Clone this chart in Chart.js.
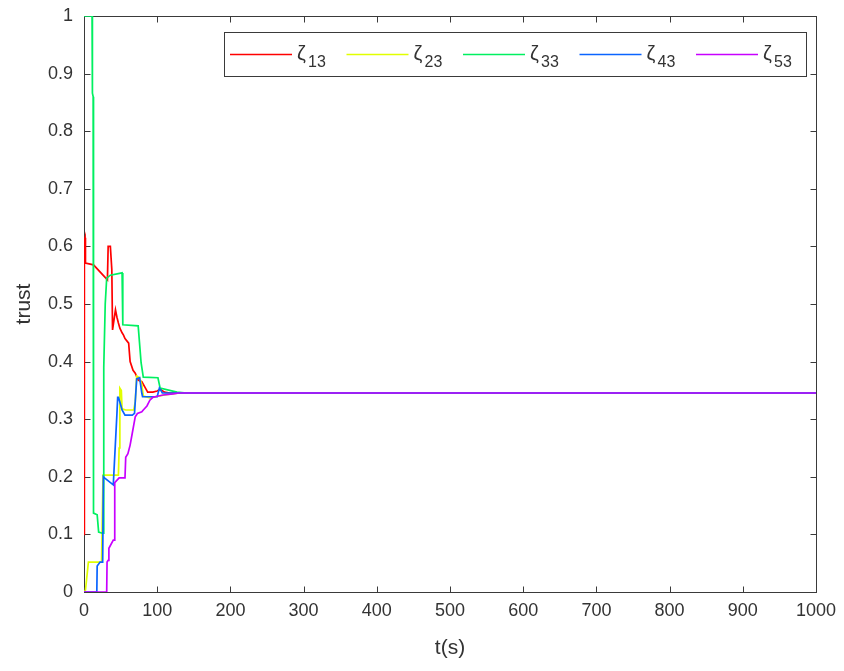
<!DOCTYPE html>
<html>
<head>
<meta charset="utf-8">
<script src="https://cdn.jsdelivr.net/npm/chart.js@4/dist/chart.umd.min.js"></script>
<style>
  html, body { margin: 0; padding: 0; background: #fff; }
  canvas { display: block; }
</style>
</head>
<body>
<canvas id="c" width="844" height="671"></canvas>
<script>
// Trust values of the five agents towards agent 3 over time (s)
const t13 = [0, 0.5, 1.5, 2, 13, 32, 33, 36, 38, 39, 43, 45, 47, 49, 52, 54, 56, 61, 63, 67, 70, 74, 79, 83, 87, 94, 100, 104, 110, 117, 1000];
const z13 = [0.10, 0.61, 0.615, 0.571, 0.568, 0.542, 0.60, 0.60, 0.56, 0.455, 0.49, 0.477, 0.467, 0.458, 0.45, 0.446, 0.44, 0.432, 0.40, 0.385, 0.38, 0.368, 0.365, 0.356, 0.347, 0.347, 0.349, 0.352, 0.347, 0.3455, 0.3455];

const t23 = [0, 2, 6, 24, 26, 47, 48, 49, 51, 52, 57, 68, 70, 72, 76, 79, 81, 90, 110, 130, 1000];
const z23 = [0, 0.003, 0.052, 0.052, 0.203, 0.203, 0.25, 0.354, 0.35, 0.318, 0.316, 0.316, 0.33, 0.375, 0.372, 0.36, 0.34, 0.337, 0.342, 0.3455, 0.3455];

const t33 = [0, 11, 11.5, 12.5, 13, 18, 20, 25, 26, 27, 29, 31, 36, 52, 53, 74, 78, 81, 101, 104, 127, 140, 1000];
const z33 = [1.0, 1.0, 0.866, 0.86, 0.137, 0.134, 0.104, 0.102, 0.102, 0.39, 0.50, 0.545, 0.55, 0.554, 0.464, 0.462, 0.398, 0.373, 0.372, 0.354, 0.347, 0.3455, 0.3455];

const t43 = [0, 17.5, 18, 22, 25.5, 26.5, 28, 40, 45, 46, 47, 49, 52, 56, 66, 69, 72, 76, 79, 80, 100, 103, 105, 107, 1000];
const z43 = [0, 0, 0.045, 0.052, 0.052, 0.2, 0.198, 0.186, 0.31, 0.338, 0.338, 0.33, 0.316, 0.307, 0.307, 0.31, 0.37, 0.372, 0.345, 0.339, 0.339, 0.354, 0.35, 0.3455, 0.3455];

const t53 = [0, 31, 31.5, 33, 34, 40, 41, 42, 48, 56, 57, 60, 63, 66, 68, 70, 73, 79, 81, 86, 90, 94, 97, 108, 122, 130, 1000];
const z53 = [0, 0, 0.052, 0.055, 0.076, 0.09, 0.09, 0.19, 0.198, 0.198, 0.234, 0.24, 0.255, 0.276, 0.29, 0.304, 0.31, 0.313, 0.316, 0.323, 0.333, 0.338, 0.339, 0.342, 0.344, 0.3455, 0.3455];

const seriesSubs = ['13', '23', '33', '43', '53'];
const seriesColors = ['#ff0000', '#e1ff00', '#00f060', '#0a64ff', '#c800ff'];
const seriesTimes = [t13, t23, t33, t43, t53];
const seriesValues = [z13, z23, z33, z43, z53];

const xTickValues = [0, 100, 200, 300, 400, 500, 600, 700, 800, 900, 1000];
const xTickLabels = ['0', '100', '200', '300', '400', '500', '600', '700', '800', '900', '1000'];
const yTickValues = [0, 0.1, 0.2, 0.3, 0.4, 0.5, 0.6, 0.7, 0.8, 0.9, 1];
const yTickLabels = ['0', '0.1', '0.2', '0.3', '0.4', '0.5', '0.6', '0.7', '0.8', '0.9', '1'];

const FONT = '"Liberation Sans", Arial, Helvetica, sans-serif';
const TEXT = '#333333';
const AXIS = '#3a3a3a';

// Later series are painted over earlier ones
const datasets = seriesTimes.map((ts, i) => ({
  label: '\u03b6' + seriesSubs[i],
  data: ts.map((t, k) => ({ x: t, y: seriesValues[i][k] })),
  borderColor: seriesColors[i],
  backgroundColor: seriesColors[i],
  borderWidth: 1.7,
  pointRadius: 0,
  tension: 0,
  fill: false,
  order: seriesTimes.length - 1 - i
}));

// Box around the axes with inward ticks on all four sides (drawn under the curves)
const axesBox = {
  id: 'axesBox',
  beforeDatasetsDraw(chart) {
    const { ctx, chartArea: a, scales } = chart;
    ctx.save();
    ctx.strokeStyle = AXIS;
    ctx.lineWidth = 1;
    const L = Math.round(a.left) + 0.5, R = Math.round(a.right) + 0.5;
    const T = Math.round(a.top) + 0.5, B = Math.round(a.bottom) + 0.5;
    ctx.strokeRect(L, T, R - L, B - T);
    const len = 6;
    ctx.beginPath();
    xTickValues.forEach(v => {
      const x = Math.round(scales.x.getPixelForValue(v)) + 0.5;
      ctx.moveTo(x, B); ctx.lineTo(x, B - len);
      ctx.moveTo(x, T); ctx.lineTo(x, T + len);
    });
    yTickValues.forEach(v => {
      const y = Math.round(scales.y.getPixelForValue(v)) + 0.5;
      ctx.moveTo(L, y); ctx.lineTo(L + len, y);
      ctx.moveTo(R, y); ctx.lineTo(R - len, y);
    });
    ctx.stroke();
    ctx.restore();
  }
};

// Legend inside the plot, with subscripted labels
const boxLegend = {
  id: 'boxLegend',
  afterDraw(chart) {
    const ctx = chart.ctx;
    const L = 224, T = 32, R = 806, B = 76;
    ctx.save();
    ctx.fillStyle = '#fff';
    ctx.fillRect(L, T, R - L, B - T);
    ctx.strokeStyle = AXIS;
    ctx.lineWidth = 1;
    ctx.strokeRect(L + 0.5, T + 0.5, R - L, B - T);
    chart.data.datasets.forEach((ds, i) => {
      const x0 = 230 + i * 116.5, y = 54.5;
      ctx.strokeStyle = ds.borderColor;
      ctx.lineWidth = 1.6;
      ctx.beginPath();
      ctx.moveTo(x0, y);
      ctx.lineTo(x0 + 62, y);
      ctx.stroke();
      ctx.fillStyle = TEXT;
      ctx.textAlign = 'left';
      ctx.textBaseline = 'alphabetic';
      ctx.font = '20px ' + FONT;
      ctx.fillText(ds.label.charAt(0), x0 + 67, 60);
      ctx.font = '16px ' + FONT;
      ctx.fillText(ds.label.slice(1), x0 + 78, 67);
    });
    ctx.restore();
  }
};

new Chart(document.getElementById('c'), {
  type: 'line',
  data: { datasets },
  options: {
    responsive: false,
    animation: false,
    devicePixelRatio: 1,
    layout: { padding: { left: 0, right: 28, top: 16, bottom: 0 } },
    plugins: { legend: { display: false }, tooltip: { enabled: false } },
    scales: {
      x: {
        type: 'linear',
        min: 0, max: 1000,
        afterBuildTicks: s => { s.ticks = xTickValues.map(v => ({ value: v })); },
        afterFit: s => { s.height = 79; s.paddingLeft = 0; s.paddingRight = 0; },
        grid: { display: false, drawTicks: false },
        border: { display: false },
        ticks: {
          color: TEXT, font: { family: FONT, size: 18 }, padding: 8, maxRotation: 0, autoSkip: false,
          callback: (v, idx) => xTickLabels[idx]
        },
        title: { display: true, text: 't(s)', color: TEXT, font: { family: FONT, size: 21 }, padding: { top: 0, bottom: 10 } }
      },
      y: {
        type: 'linear',
        min: 0, max: 1,
        afterBuildTicks: s => { s.ticks = yTickValues.map(v => ({ value: v })); },
        afterFit: s => { s.width = 84; s.paddingTop = 0; s.paddingBottom = 0; },
        grid: { display: false, drawTicks: false },
        border: { display: false },
        ticks: {
          color: TEXT, font: { family: FONT, size: 18 }, padding: 11, autoSkip: false,
          callback: (v, idx) => yTickLabels[idx]
        },
        title: { display: true, text: 'trust', color: TEXT, font: { family: FONT, size: 21 }, padding: { top: 12, bottom: 0 } }
      }
    }
  },
  plugins: [axesBox, boxLegend]
});
</script>
</body>
</html>
